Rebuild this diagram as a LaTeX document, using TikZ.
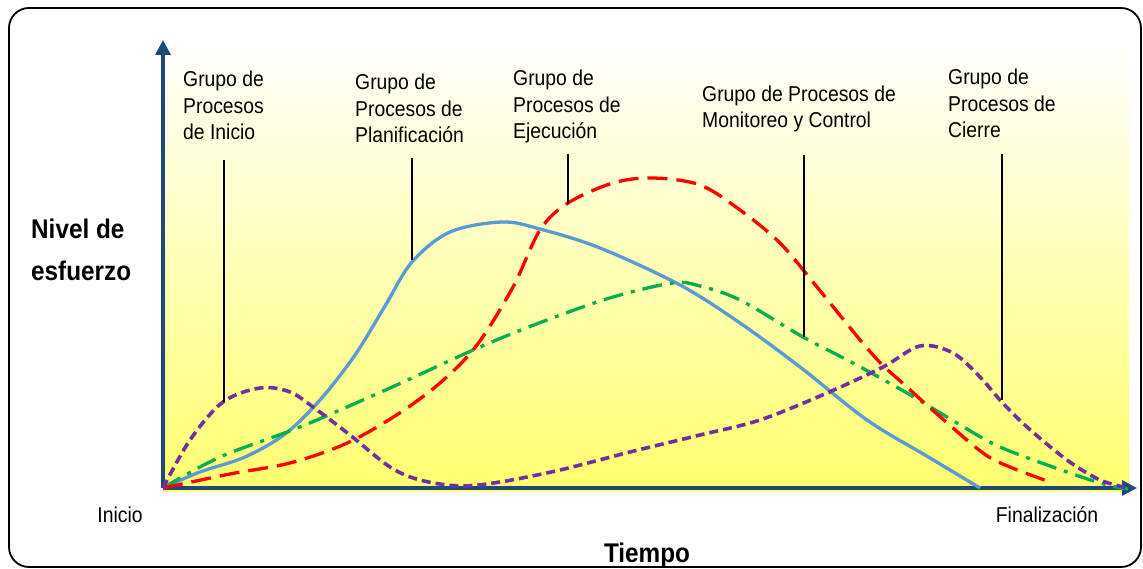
\documentclass[tikz,border=0pt]{standalone}
\usepackage{fontspec}
\setmainfont{Liberation Sans}[FakeStretch=0.9]
\usetikzlibrary{arrows.meta}
\definecolor{axisblue}{HTML}{1F497D}
\definecolor{curveblue}{HTML}{5B9BD5}
\definecolor{curvered}{HTML}{FF0000}
\definecolor{curvegreen}{HTML}{00B050}
\definecolor{curvepurple}{HTML}{7030A0}
\definecolor{bgyellow}{HTML}{FFFF6E}
\begin{document}
\begin{tikzpicture}[x=1pt,y=-1pt,
  frame/.style={draw=black, line width=1.8pt, rounded corners=20pt},
  axisline/.style={draw=axisblue, line width=3.3pt, -{Triangle[length=15pt,width=15pt]}},
  curveline/.style={line width=3.3pt, line cap=butt},
  blueline/.style={curveline, draw=curveblue},
  redline/.style={curveline, draw=curvered, dash pattern=on 20pt off 9pt},
  greenline/.style={curveline, draw=curvegreen, dash pattern=on 20pt off 8pt on 4pt off 8pt},
  purpleline/.style={line width=3.6pt, line cap=butt, draw=curvepurple, dash pattern=on 9pt off 5pt},
  pointer/.style={draw=black, line width=1.5pt},
  lbl/.style={anchor=base west, inner sep=0pt, align=left, font=\fontsize{21.5}{26.5}\selectfont},
  axlbl/.style={anchor=base, inner sep=0pt, font=\fontsize{21.5}{26}\selectfont},
  bigtitle/.style={inner sep=0pt, align=left, font=\bfseries\fontsize{27}{43}\selectfont}
]
\useasboundingbox (0,0) rectangle (1143,569);
% outer frame
\draw[frame] (9,8) rectangle (1141,567);
% background shading
\shade[top color=white, bottom color=bgyellow] (163,40) rectangle (1129,491);

% axes
\coordinate (O) at (163,488);
\coordinate (ytop) at (163,40);
\coordinate (xend) at (1137,488);
\draw[axisline] (O) -- (ytop);
\draw[axisline] (O) -- (xend);

% curves
\draw[blueline] plot[smooth, tension=0.55] coordinates {(163,488) (200,472) (245,457) (285,434) (320,400) (355,355) (385,306) (412,262) (450,232) (502,222) (540,229) (600,248) (680,285) (740,323) (800,367) (867,420) (930,458) (980,488)};
\draw[greenline] plot[smooth, tension=0.55] coordinates {(163,488) (220,457) (300,427) (390,388) (480,347) (547,320) (613,297) (673,283) (700,286) (740,300) (803,337) (853,363) (907,393) (957,423) (1000,447) (1067,472) (1107,485) (1128,489)};
\draw[redline] plot[smooth, tension=0.55] coordinates {(163,488) (230,474) (290,463) (345,444) (395,416) (440,383) (477,345) (513,287) (540,230) (568,203) (613,183) (653,178) (700,185) (740,210) (780,243) (817,287) (873,355) (907,387) (937,414) (983,453) (1010,467) (1050,482)};
\draw[purpleline] plot[smooth, tension=0.55] coordinates {(163,488) (190,440) (223,402) (260,388) (290,392) (317,410) (350,435) (390,467) (420,480) (460,486) (500,482) (560,470) (630,452) (700,435) (760,420) (827,393) (883,367) (920,346) (953,353) (980,377) (1000,400) (1027,427) (1067,460) (1100,480) (1128,488)};

% pointers
\coordinate (p1t) at (224,160); \coordinate (p1b) at (224,402);
\coordinate (p2t) at (412,158); \coordinate (p2b) at (412,260);
\coordinate (p3t) at (568,154); \coordinate (p3b) at (568,204);
\coordinate (p4t) at (804,155); \coordinate (p4b) at (804,337);
\coordinate (p5t) at (1002,154); \coordinate (p5b) at (1002,400);
\draw[pointer] (p1t) -- (p1b);
\draw[pointer] (p2t) -- (p2b);
\draw[pointer] (p3t) -- (p3b);
\draw[pointer] (p4t) -- (p4b);
\draw[pointer] (p5t) -- (p5b);

% labels (anchor = baseline of last line)
\node[lbl] (l1) at (183,140) {Grupo de\\Procesos\\de Inicio};
\node[lbl] (l2) at (355,143) {Grupo de\\Procesos de\\Planificación};
\node[lbl] (l3) at (513,139) {Grupo de\\Procesos de\\Ejecución};
\node[lbl] (l4) at (702,128) {Grupo de Procesos de\\Monitoreo y Control};
\node[lbl] (l5) at (948,138) {Grupo de\\Procesos de\\Cierre};

\node[axlbl] (inicio) at (120,522) {Inicio};
\node[axlbl] (fin) at (1047,522) {Finalización};
\node[bigtitle, anchor=base] (tiempo) at (647,562) {Tiempo};
\node[bigtitle, anchor=base west] (nivel) at (31,281) {Nivel de\\esfuerzo};
\end{tikzpicture}
\end{document}
